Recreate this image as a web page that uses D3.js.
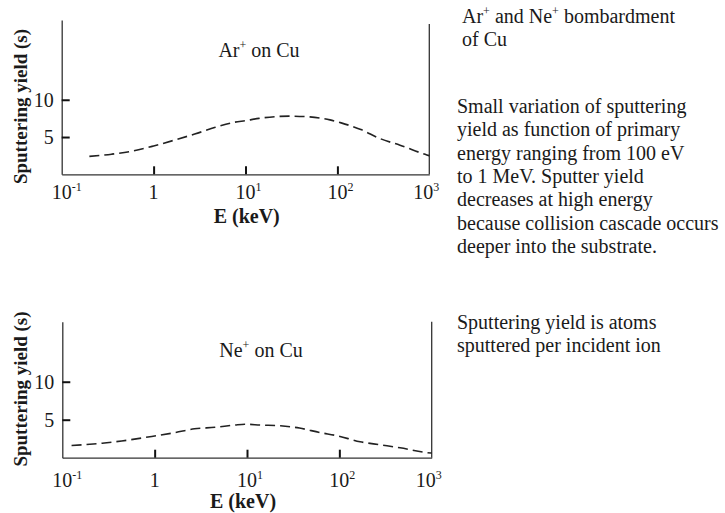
<!DOCTYPE html>
<html lang="en">
<head>
    <meta charset="UTF-8">
    <title>Sputtering yield of Cu</title>
    <script src="https://d3js.org/d3.v7.min.js"></script>
    <style>
        html, body {
            margin: 0;
            background: #fff;
        }
        svg text {
            font-family: "Liberation Serif", "Times New Roman", serif;
            fill: #1a1a1a;
        }
        .axis path {
            stroke: #333;
            stroke-width: 1.3px;
        }
        .axis line {
            stroke: #111;
            stroke-width: 2px;
        }
    </style>
</head>
<body>
    <div id="vis"></div>
    <script>

        /*
         *  DATA
         */
        // Ar+ on Cu, energy in keV and sputtering yield
        var arEnergy = [0.2, 0.35, 0.58, 1, 1.7, 2.8, 4.7, 7.7, 10, 14, 30, 50, 83, 110, 180, 290, 480, 940, 1000];
        var arYield  = [2.4, 2.7, 3.1, 3.8, 4.6, 5.4, 6.3, 7.0, 7.2, 7.5, 7.8, 7.7, 7.3, 6.9, 6.0, 4.8, 3.9, 2.6, 2.5];

        // Ne+ on Cu
        var neEnergy = [0.126, 0.27, 0.44, 0.93, 1.66, 2.7, 4.5, 7.4, 9.5, 14, 23, 37, 62, 94, 168, 276, 454, 850, 1000];
        var neYield  = [1.6, 1.9, 2.2, 2.8, 3.3, 3.8, 4.0, 4.3, 4.4, 4.3, 4.2, 3.9, 3.3, 2.9, 2.1, 1.7, 1.3, 0.7, 0.6];

        var xTickValues = [0.1, 1, 10, 100, 1000];
        var xTickExponents = ["-1", null, "1", "2", "3"];
        var yTickValues = [5, 10];

        var sideHeading = [["Ar", "+", " and Ne", "+", " bombardment"], ["of Cu"]];
        var sideParagraph = [
            "Small variation of sputtering",
            "yield as function of primary",
            "energy ranging from 100 eV",
            "to 1 MeV. Sputter yield",
            "decreases at high energy",
            "because collision cascade occurs",
            "deeper into the substrate."
        ];
        var sideNote = [
            "Sputtering yield is atoms",
            "sputtered per incident ion"
        ];

        /*
         *  LAYOUT
         */
        var panels = [
            {ion: "Ar", energy: arEnergy, values: arYield, left: 61.7, right: 429.3, top: 20, rightTop: 24,
             bottom: 174.3, yMax: 20.7, labelX: 259, labelY: 57, tickLabelY: 199, titleX: 246.7, titleY: 222.5,
             yTitleY: 106.5},
            {ion: "Ne", energy: neEnergy, values: neYield, left: 62.3, right: 431.7, top: 321.7, rightTop: 321.7,
             bottom: 457.7, yMax: 17.9, labelX: 261, labelY: 357, tickLabelY: 487, titleX: 243, titleY: 508,
             yTitleY: 389}
        ];

        var svg = d3.select('#vis')
            .append('svg')
                .attr('width', 725)
                .attr('height', 513);

        panels.forEach(function(p) {
            var x = d3.scaleLog()
                .domain([0.1, 1000])
                .range([p.left, p.right]);

            var y = d3.scaleLinear()
                .domain([0, p.yMax])
                .range([p.bottom, p.top]);

            // bottom axis with ticks pointing inside
            svg.append('g')
                .attr('class', 'axis')
                .attr('transform', 'translate(0,' + p.bottom + ')')
                .call(d3.axisBottom(x).tickValues([1, 10, 100]).tickSize(-8).tickSizeOuter(0).tickFormat(''));

            // left axis
            svg.append('g')
                .attr('class', 'axis')
                .attr('transform', 'translate(' + p.left + ',0)')
                .call(d3.axisLeft(y).tickValues(yTickValues).tickSize(-8).tickSizeOuter(0).tickFormat(''));

            // right frame line
            svg.append('line')
                .attr('x1', x(1000)).attr('x2', x(1000))
                .attr('y1', p.rightTop).attr('y2', p.bottom)
                .attr('stroke', '#333')
                .attr('stroke-width', 1.3);

            // x tick labels, 10 centred on the tick with the exponent after it
            xTickValues.forEach(function(v, i) {
                var exp = xTickExponents[i];
                // the last label sits a little left of its tick in the original
                var shift = v === 1000 ? -6 : 0;
                svg.append('text')
                    .attr('x', x(v) + shift)
                    .attr('y', p.tickLabelY)
                    .attr('text-anchor', 'middle')
                    .style('font-size', '20px')
                    .text(exp === null ? '1' : '10');
                if (exp !== null) {
                    svg.append('text')
                        .attr('x', x(v) + shift + 10)
                        .attr('y', p.tickLabelY - 8)
                        .style('font-size', '12px')
                        .text(exp);
                }
            });

            // y tick labels
            yTickValues.forEach(function(v) {
                svg.append('text')
                    .attr('x', p.left - 8)
                    .attr('y', y(v) + 7)
                    .attr('text-anchor', 'end')
                    .style('font-size', '20px')
                    .text(v);
            });

            // dashed curve
            var line = d3.line()
                .x(function(d) { return x(d[0]); })
                .y(function(d) { return y(d[1]); })
                .curve(d3.curveMonotoneX);

            svg.append('path')
                .datum(d3.zip(p.energy, p.values))
                .attr('d', line)
                .attr('fill', 'none')
                .attr('stroke', '#222')
                .attr('stroke-width', 1.6)
                .attr('stroke-dasharray', '10,5');

            // panel label
            var lab = svg.append('text')
                .attr('x', p.labelX)
                .attr('y', p.labelY)
                .attr('text-anchor', 'middle')
                .style('font-size', '20px');
            lab.append('tspan').text(p.ion);
            lab.append('tspan').attr('dy', -8).style('font-size', '12px').text('+');
            lab.append('tspan').attr('dy', 8).text(' on Cu');

            // axis titles
            svg.append('text')
                .attr('x', p.titleX)
                .attr('y', p.titleY)
                .attr('text-anchor', 'middle')
                .style('font-size', '20px')
                .style('font-weight', 'bold')
                .text('E (keV)');

            svg.append('text')
                .attr('transform', 'translate(27,' + p.yTitleY + ')rotate(-90)')
                .attr('text-anchor', 'middle')
                .style('font-size', '19px')
                .style('font-weight', 'bold')
                .text('Sputtering yield (s)');
        });

        /*
         *  SIDE TEXT
         */
        sideHeading.forEach(function(parts, i) {
            var t = svg.append('text')
                .attr('x', 462)
                .attr('y', 23 + i * 23)
                .style('font-size', '20px');
            parts.forEach(function(s, j) {
                if (s === '+') {
                    t.append('tspan').attr('dy', -8).style('font-size', '12px').text('+');
                } else {
                    t.append('tspan').attr('dy', j > 0 ? 8 : 0).text(s);
                }
            });
        });

        svg.selectAll('.para')
            .data(sideParagraph)
            .enter()
            .append('text')
                .attr('class', 'para')
                .attr('x', 457)
                .attr('y', function(d, i) { return 113 + i * 23.3; })
                .style('font-size', '20px')
                .text(function(d) { return d; });

        svg.selectAll('.note')
            .data(sideNote)
            .enter()
            .append('text')
                .attr('class', 'note')
                .attr('x', 457)
                .attr('y', function(d, i) { return 329 + i * 23.3; })
                .style('font-size', '20px')
                .text(function(d) { return d; });
    </script>
</body>
</html>
